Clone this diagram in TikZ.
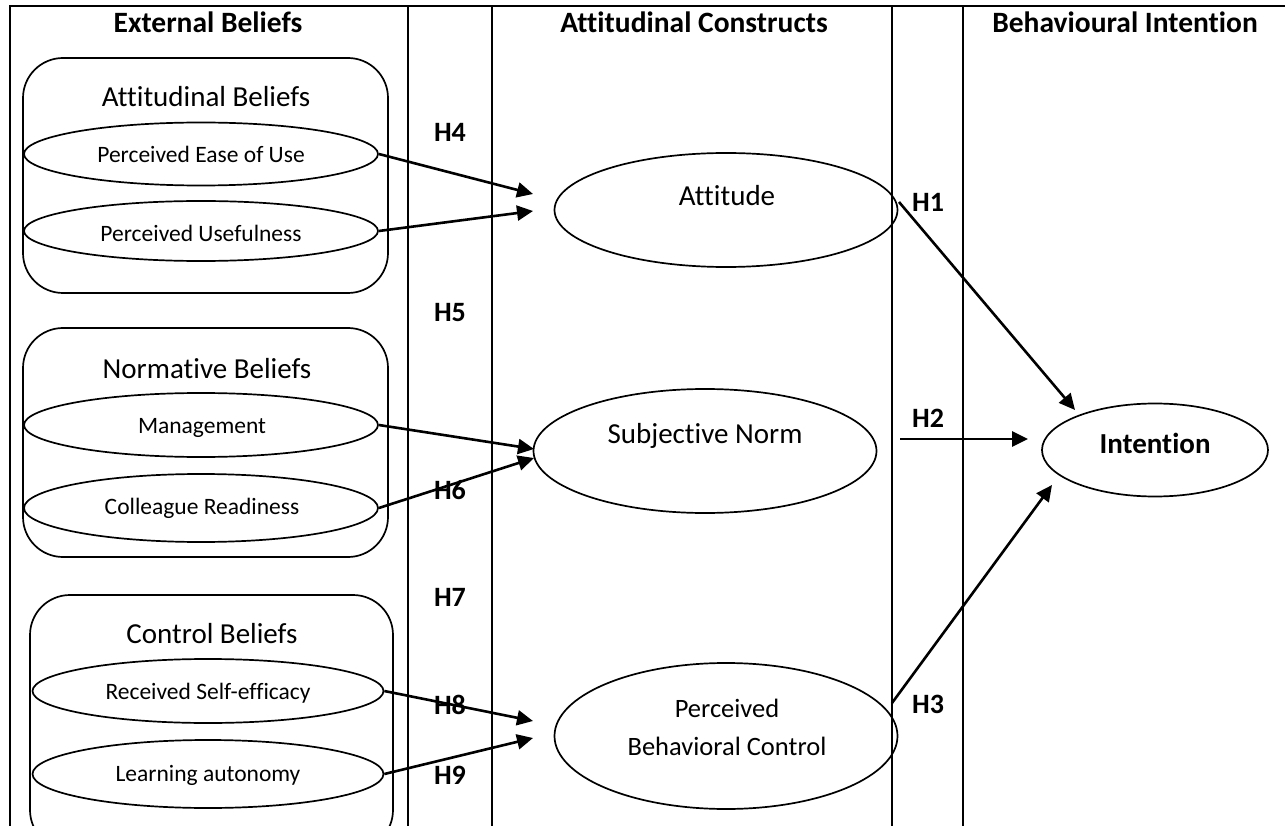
\documentclass[tikz,border=0pt]{standalone}
\usepackage{fontspec}
\setmainfont{Carlito}[Ligatures=NoCommon]
\usetikzlibrary{arrows.meta,shapes.geometric}
\begin{document}
\begin{tikzpicture}[x=1pt,y=-1pt,
  frame/.style={line width=2pt},
  grp/.style={draw,line width=1.7pt,rounded corners=40pt},
  oval/.style={draw,ellipse,line width=1.7pt,inner sep=0pt},
  arr/.style={line width=2.6pt,-{Triangle[length=16pt,width=15pt]}},
  hdr/.style={anchor=base,inner sep=0pt,font=\fontsize{29.5}{34}\selectfont\bfseries},
  ttl/.style={anchor=base,inner sep=0pt,font=\fontsize{29}{34}\selectfont},
  sml/.style={anchor=base,inner sep=0pt,font=\fontsize{23.5}{27}\selectfont},
  hyp/.style={anchor=base,inner sep=0pt,font=\fontsize{28}{32}\selectfont\bfseries}
]
\clip (0,0) rectangle (1285,826);
\useasboundingbox (0,0) rectangle (1285,826);
% frame
\draw[frame] (10,826) -- (10,6) -- (1285,6);
\draw[frame] (408,6) -- (408,826);
\draw[frame] (492,6) -- (492,826);
\draw[frame] (892,6) -- (892,826);
\draw[frame] (963,6) -- (963,826);
% headers
\node[hdr] (h1) at (208,33) {External Beliefs};
\node[hdr] (h2) at (694,33) {Attitudinal Constructs};
\node[hdr] (h3) at (1125,33) {Behavioural Intention};
% group boxes
\draw[grp] (23,58) rectangle (388,293);
\draw[grp] (23,328) rectangle (388,557);
\draw[grp] (30,595) rectangle (393,850);
\node[ttl] (tab) at (206,107) {Attitudinal Beliefs};
\node[ttl] (tnb) at (207,378) {Normative Beliefs};
\node[ttl] (tcb) at (212,643) {Control Beliefs};
% small ellipses
\node[oval,minimum width=354pt,minimum height=63pt] (peou) at (201,154) {};
\node[oval,minimum width=354pt,minimum height=60pt] (pu) at (201,231) {};
\node[oval,minimum width=354pt,minimum height=64pt] (mg) at (201,425) {};
\node[oval,minimum width=354pt,minimum height=68pt] (cr) at (201,508) {};
\node[oval,minimum width=351pt,minimum height=64pt] (rse) at (208,691) {};
\node[oval,minimum width=351pt,minimum height=68pt] (la) at (208,774) {};
\node[sml] (tpeou) at (201,163) {Perceived Ease of Use};
\node[sml] (tpu) at (201,242) {Perceived Usefulness};
\node[sml] (tmg) at (202,433) {Management};
\node[sml] (tcr) at (202,514) {Colleague Readiness};
\node[sml] (trse) at (208,699) {Received Self-efficacy};
\node[sml] (tla) at (208,781) {Learning autonomy};
% constructs
\node[oval,minimum width=343pt,minimum height=114pt] (att) at (726,210) {};
\node[oval,minimum width=343pt,minimum height=124pt] (sn) at (705,451) {};
\node[oval,minimum width=343pt,minimum height=146pt] (pbc) at (726,736) {};
\node[oval,minimum width=226pt,minimum height=93pt] (int) at (1155,450) {};
\node[ttl] (tatt) at (727,206) {Attitude};
\node[ttl] (tsn) at (705,443) {Subjective Norm};
\node[anchor=base,inner sep=0pt,font=\fontsize{26.5}{30}\selectfont] (tpbc1) at (727,717) {Perceived};
\node[anchor=base,inner sep=0pt,font=\fontsize{26.5}{30}\selectfont] (tpbc2) at (727,755) {Behavioral Control};
\node[anchor=base,inner sep=0pt,font=\fontsize{29}{34}\selectfont\bfseries] (tint) at (1155,453) {Intention};
% hypothesis labels
\node[hyp] (H4) at (450,142) {H4};
\node[hyp] (H5) at (450,321) {H5};
\node[hyp] (H6) at (450,499) {H6};
\node[hyp] (H7) at (450,606) {H7};
\node[hyp] (H8) at (450,714) {H8};
\node[hyp] (H9) at (450,784) {H9};
\node[hyp] (H1) at (928,212) {H1};
\node[hyp] (H2) at (928,427) {H2};
\node[hyp] (H3) at (928,713) {H3};
% arrow ends
\coordinate (t1) at (533,194);
\coordinate (t2) at (533,211);
\coordinate (t3) at (534,449);
\coordinate (t4) at (534,458);
\coordinate (t5) at (533,721);
\coordinate (t6) at (533,738);
\coordinate (s7) at (899,202);
\coordinate (t7) at (1075,410);
\coordinate (s8) at (900,439);
\coordinate (t8) at (1028,439);
\coordinate (s9) at (892,703);
\coordinate (t9) at (1052,485);
\draw[arr] (peou.east) -- (t1);
\draw[arr] (pu.east) -- (t2);
\draw[arr] (mg.east) -- (t3);
\draw[arr] (cr.east) -- (t4);
\draw[arr] (rse.east) -- (t5);
\draw[arr] (la.east) -- (t6);
\draw[arr] (s7) -- (t7);
\draw[arr] (s8) -- (t8);
\draw[arr] (s9) -- (t9);
\end{tikzpicture}
\end{document}
